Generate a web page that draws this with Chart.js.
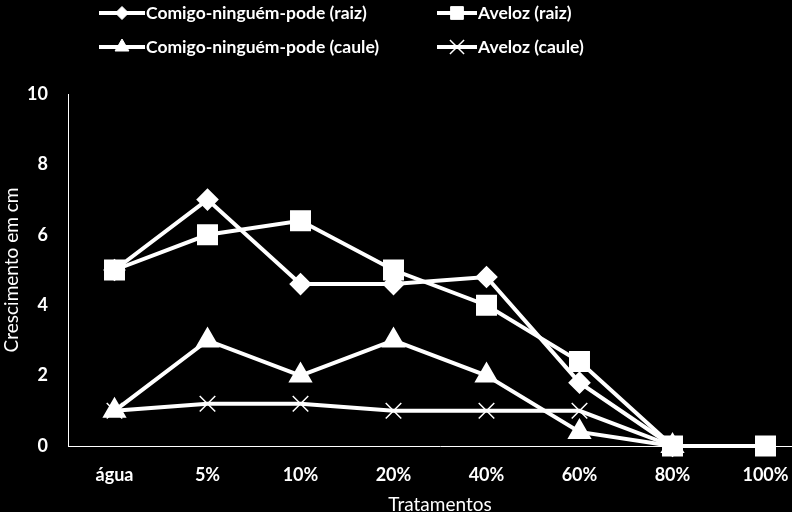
<!DOCTYPE html>
<html>
<head>
<meta charset="utf-8">
<script src="https://cdn.jsdelivr.net/npm/chart.js@4"></script>
<style>
  html, body { margin: 0; padding: 0; background: #000; overflow: hidden; }
  #clip { position: relative; width: 792px; height: 512px; overflow: hidden; }
  #growthChart { position: absolute; left: 0; top: 0; }
</style>
</head>
<body>
<div id="clip"><canvas id="growthChart" width="812" height="520"></canvas></div>
<script>
// tratamentos (eixo x)
const tratamentos = ['água', '5%', '10%', '20%', '40%', '60%', '80%', '100%'];
// crescimento em cm
const comigoRaiz = [5, 7, 4.6, 4.6, 4.8, 1.8, 0, null];
const avelozRaiz = [5, 6, 6.4, 5, 4, 2.4, 0, 0];
const comigoCaule = [1, 3, 2, 3, 2, 0.4, 0, null];
const avelozCaule = [1, 1.2, 1.2, 1, 1, 1, 0, null];
const yTicks = [0, 2, 4, 6, 8, 10];

const fontFamily = 'Lato, "Open Sans", sans-serif';

// legenda em duas colunas, desenhada à mão
const legendPos = [
    { x: 99, y: 13, w: 46 },
    { x: 437, y: 13, w: 40 },
    { x: 99, y: 47, w: 46 },
    { x: 437, y: 47, w: 40 }
];
const twoColLegend = {
    id: 'twoColLegend',
    afterDraw(chart) {
        const ctx = chart.ctx;
        ctx.save();
        chart.data.datasets.forEach((ds, i) => {
            const p = legendPos[i];
            ctx.strokeStyle = '#fff';
            ctx.fillStyle = '#fff';
            ctx.lineWidth = 4;
            ctx.beginPath();
            ctx.moveTo(p.x, p.y);
            ctx.lineTo(p.x + p.w, p.y);
            ctx.stroke();
            ctx.lineWidth = ds.pointBorderWidth || 1;
            Chart.helpers.drawPoint(ctx, {
                pointStyle: ds.pointStyle,
                radius: ds.legendRadius,
                rotation: 0,
                borderWidth: ds.pointBorderWidth || 1
            }, p.x + p.w / 2, p.y);
            ctx.font = 'bold 17.5px ' + fontFamily;
            ctx.textBaseline = 'middle';
            ctx.textAlign = 'left';
            ctx.fillText(ds.label, p.x + p.w + 1, p.y);
        });
        ctx.restore();
    }
};

const ctx = document.getElementById('growthChart').getContext('2d');
new Chart(ctx, {
    type: 'line',
    data: {
        labels: tratamentos,
        datasets: [{
            label: 'Comigo-ninguém-pode (raiz)',
            data: comigoRaiz,
            pointStyle: 'rectRot',
            pointRadius: 8.5,
            legendRadius: 6.5,
            order: 2
        }, {
            label: 'Aveloz (raiz)',
            data: avelozRaiz,
            pointStyle: 'rect',
            pointRadius: 12,
            legendRadius: 9,
            order: 0
        }, {
            label: 'Comigo-ninguém-pode (caule)',
            data: comigoCaule,
            pointStyle: 'triangle',
            pointRadius: 10,
            legendRadius: 8,
            order: 1
        }, {
            label: 'Aveloz (caule)',
            data: avelozCaule,
            pointStyle: 'crossRot',
            pointRadius: 11,
            pointBorderWidth: 1.5,
            legendRadius: 10,
            order: 3
        }].map(ds => Object.assign({
            borderColor: '#fff',
            backgroundColor: '#fff',
            pointBackgroundColor: '#fff',
            pointBorderColor: '#fff',
            borderWidth: 4,
            tension: 0,
            clip: false,
            spanGaps: false
        }, ds))
    },
    options: {
        responsive: false,
        animation: false,
        layout: { autoPadding: false, padding: { top: 94, left: 0, right: 0, bottom: 0 } },
        plugins: {
            legend: { display: false },
            tooltip: { enabled: false }
        },
        scales: {
            x: {
                offset: true,
                afterFit: axis => { axis.height = 74; },
                grid: { display: false, drawTicks: false },
                border: { display: true, color: '#fff', width: 1 },
                ticks: { color: '#fff', padding: 18, font: { family: fontFamily, size: 18, weight: 'bold' } },
                title: {
                    display: true, text: 'Tratamentos', color: '#fff',
                    font: { family: fontFamily, size: 19 },
                    padding: { top: 6, bottom: 4 }
                }
            },
            y: {
                min: 0, max: 10,
                afterBuildTicks: axis => { axis.ticks = yTicks.map(v => ({ value: v })); },
                afterFit: axis => { axis.width = 68; },
                grid: { display: false, drawTicks: false },
                border: { display: true, color: '#fff', width: 1 },
                ticks: { color: '#fff', padding: 20, font: { family: fontFamily, size: 18, weight: 'bold' } },
                title: {
                    display: true, text: 'Crescimento em cm', color: '#fff',
                    font: { family: fontFamily, size: 19 },
                    padding: { top: 0, bottom: 4 }
                }
            }
        }
    },
    plugins: [twoColLegend]
});
</script>
</body>
</html>
